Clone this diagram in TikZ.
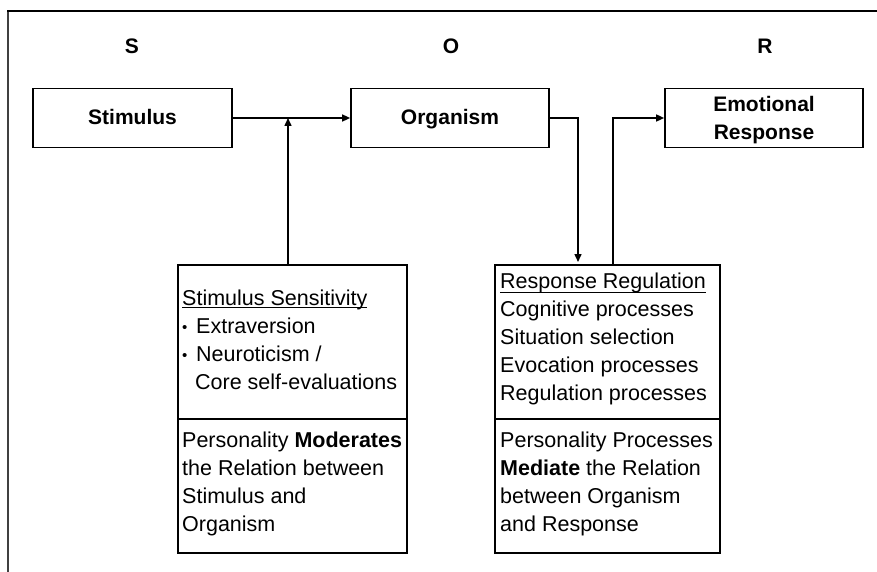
\documentclass[tikz,border=0pt]{standalone}
\usepackage{fontspec}
\setmainfont{Liberation Sans}
\usetikzlibrary{arrows.meta}
\newcommand\myul[2][3.5pt]{\setbox0\hbox{#2}\rlap{\rule[-#1]{\wd0}{1.1pt}}\box0}
\newcommand\mybul{\makebox[14pt][l]{\raisebox{1.2pt}{\fontsize{15}{15}\selectfont\textbullet}}}
\begin{document}
\begin{tikzpicture}[x=1pt,y=-1pt,
  every node/.style={font=\fontsize{21.5}{28}\selectfont},
  topbox/.style={draw,line width=1.7pt,minimum width=198pt,minimum height=59pt,inner sep=0pt},
  boxtxt/.style={anchor=base,inner sep=0pt,font=\fontsize{21}{28}\selectfont\bfseries},
  lowbox/.style={draw,line width=1.7pt,inner sep=0pt,anchor=north west},
  txt/.style={anchor=north west,inner sep=0pt,align=left},
  lbl/.style={font=\fontsize{21}{26}\selectfont\bfseries,inner sep=0pt},
  arr/.style={line width=1.5pt,-{Triangle[length=8pt,width=7pt]}}]
\useasboundingbox (0,0) rectangle (877,572);
% outer frame
\draw[line width=1.2pt,black!75] (8,11) -- (8,572);
\draw[line width=2.5pt] (7.4,11) -- (877,11);
% SOR labels
\node[lbl] (S) at (132,46) {S};
\node[lbl] (O) at (451,46) {O};
\node[lbl] (R) at (765,46) {R};
% top boxes
\node[topbox,minimum width=199pt] (stim) at (132.5,118) {};
\node[topbox] (org) at (450,118) {};
\node[topbox] (emo) at (764,118) {};
\node[boxtxt] (stimt) at (132.5,124.5) {Stimulus};
\node[boxtxt] (orgt) at (450,124.5) {Organism};
\node[boxtxt] (emot1) at (764,111.5) {Emotional};
\node[boxtxt] (emot2) at (764,139.5) {Response};
% lower boxes
\node[lowbox,minimum width=229pt,minimum height=154pt] (ss) at (177,264) {};
\node[lowbox,minimum width=229pt,minimum height=134pt] (pm) at (177,418) {};
\node[lowbox,minimum width=225pt,minimum height=154pt] (rr) at (494,264) {};
\node[lowbox,minimum width=225pt,minimum height=134pt] (pp) at (494,418) {};
% texts
\node[txt] (sstxt) at (182,289) {\rule{0pt}{16pt}\myul[3pt]{Stimulus Sensitivity}\\
  \mybul Extraversion\\
  \mybul Neuroticism /\\
  \hspace*{13pt}Core self-evaluations};
\node[txt] (pmtxt) at (182,431) {\rule{0pt}{16pt}Personality \textbf{Moderates}\\
  the Relation between\\
  Stimulus and\\
  Organism};
\node[txt] (rrtxt) at (500,272) {\rule{0pt}{16pt}\myul[5pt]{Response Regulation}\\
  Cognitive processes\\
  Situation selection\\
  Evocation processes\\
  Regulation processes};
\node[txt] (pptxt) at (500,431) {\rule{0pt}{16pt}Personality Processes\\
  \textbf{Mediate} the Relation\\
  between Organism\\
  and Response};
% connectors
\coordinate (mod) at (288,118);
\coordinate (down) at (578,262);
\coordinate (up) at (613,264);
\draw[arr] (stim.east) -- (org.west);
\draw[arr] (ss.north -| mod) -- (mod);
\draw[arr] (org.east) -| (down);
\draw[arr] (up) |- (emo.west);
\end{tikzpicture}
\end{document}
